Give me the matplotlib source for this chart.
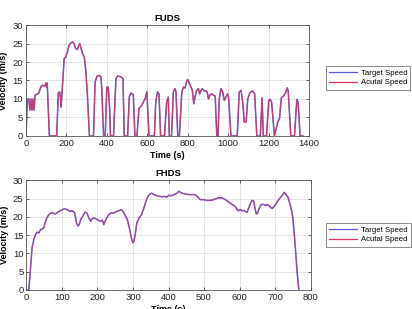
import matplotlib.pyplot as plt

plt.rcParams["font.family"] = ["Liberation Sans", "DejaVu Sans"]

# FUDS speed profile (time in s, speed in m/s)
FUDS_TIME = [0, 7, 14, 20, 25, 30, 35, 40, 45, 51, 64, 73, 81, 93, 99, 102, 105, 116,
             152, 160, 167, 170, 174, 189, 197, 205, 213, 222, 230, 238, 246, 255, 260,
             266, 271, 280, 288, 296, 304, 314, 334, 342, 351, 362, 371, 375, 384, 392,
             400, 407, 414, 418, 433, 445, 453, 470, 480, 486, 503, 511, 519, 531, 539,
             549, 559, 564, 573, 581, 589, 598, 609, 635, 642, 651, 658, 666, 685, 696,
             704, 709, 720, 729, 737, 742, 751, 759, 771, 779, 787, 795, 800, 806, 816,
             823, 830, 836, 844, 853, 859, 866, 873, 883, 889, 896, 903, 909, 919, 927,
             936, 944, 950, 956, 964, 973, 981, 989, 997, 1002, 1014, 1045, 1055, 1064,
             1072, 1080, 1089, 1097, 1108, 1121, 1131, 1142, 1159, 1168, 1174, 1190,
             1201, 1207, 1215, 1229, 1246, 1254, 1263, 1274, 1284, 1292, 1297, 1310,
             1328, 1340, 1346, 1356, 1370]
FUDS_SPEED = [0, 10, 10, 7, 10, 7, 10, 7, 11, 11.2, 11.6, 13.2, 13.7, 13.5, 14.3, 13.2,
              14.3, 0, 0, 11.7, 11.9, 10.5, 7.8, 20.9, 21.4, 22.7, 24.5, 25.2, 25.4, 25,
              23.6, 23.4, 24.3, 25, 24, 22.3, 21.4, 17.7, 11, 0, 0, 14.6, 16.1, 16.4, 16,
              12.8, 0, 0, 13.2, 13.2, 7.4, 0, 0, 15.5, 16.2, 16, 15.5, 0, 0, 10.5, 11.6,
              11.2, 0, 0, 7.4, 7.8, 8.3, 9.2, 10, 11.9, 0, 0, 9.2, 11.9, 11.4, 0, 0, 9.2,
              10.5, 0, 0, 11.9, 12.8, 11.9, 0, 0, 11.9, 13.2, 13, 14.8, 15.3, 14.6, 13.2,
              12.3, 8.7, 10.5, 12.3, 12.8, 11.4, 12.3, 12.8, 12.1, 12.3, 11.9, 10, 11,
              11.4, 11, 10.8, 0, 0, 10, 12.8, 11.9, 9.6, 10.5, 11.4, 10.5, 0, 0, 11.9,
              12.3, 9.2, 3.8, 3.8, 10, 11.7, 12.2, 11.4, 0, 0, 10.3, 0, 0, 9.6, 9.9, 9.2,
              0, 3.8, 4.7, 10.3, 10.8, 11.7, 13, 12.3, 0, 0, 9.9, 9.2, 0, 0]

# FHDS speed profile
FHDS_TIME = [0, 7, 12, 16, 21, 26, 30, 35, 40, 45, 49, 54, 59, 66, 73, 82, 90, 98, 106,
             115, 122, 129, 136, 141, 145, 149, 153, 159, 165, 170, 176, 181, 185, 190,
             195, 204, 209, 214, 218, 223, 228, 232, 239, 247, 254, 261, 267, 272, 277,
             284, 291, 295, 300, 303, 307, 311, 317, 324, 331, 338, 344, 352, 359, 366,
             375, 383, 389, 395, 401, 408, 416, 423, 429, 437, 446, 456, 465, 475, 482,
             489, 499, 508, 517, 527, 532, 541, 551, 560, 570, 579, 587, 593, 598, 603,
             607, 612, 617, 621, 626, 631, 635, 640, 643, 647, 650, 654, 659, 663, 668,
             673, 678, 682, 687, 692, 696, 703, 710, 717, 722, 726, 731, 737, 741, 746,
             750, 754, 758, 762, 767]
FHDS_SPEED = [0, 0, 6.5, 11.5, 13.8, 15.2, 15.8, 15.6, 16.5, 16.7, 17, 18.8, 20, 20.9,
              21.1, 20.8, 21.4, 21.8, 22.2, 22, 21.5, 21.7, 21.1, 18.4, 17.5, 17.9, 19.3,
              20.2, 21.3, 21.1, 19.7, 18.8, 19.5, 19.7, 19.5, 19, 18.8, 19.1, 17.9, 19.1,
              20, 20.6, 21.1, 21.1, 21.5, 21.7, 22, 21.5, 20.6, 19.3, 16.5, 14.3, 12.9,
              13.4, 15.6, 18.4, 19.7, 20.6, 22.5, 24.7, 25.9, 26.5, 26.1, 25.8, 25.6, 25.5,
              25.6, 25.4, 25.9, 25.8, 26.1, 26.4, 27, 26.5, 26.3, 26.1, 26.1, 26.1, 25.5,
              24.7, 24.7, 24.5, 24.5, 24.7, 24.9, 25.2, 25.2, 24.7, 24, 23.4, 22.9, 22,
              21.7, 22, 21.6, 21.8, 21.4, 21.3, 22.5, 23.8, 24.5, 24.3, 22.5, 20.8, 20.9,
              22, 23.1, 23.4, 23.4, 23.1, 23.4, 23.1, 22.6, 22.3, 22.7, 23.6, 24.7, 25.5,
              26.1, 26.7, 26.1, 25.2, 23.8, 22, 19.7, 15.2, 10.2, 4.7, 0]

TARGET_COLOR = "#5b5bd6"
ACTUAL_COLOR = "#d83a5e"


def draw_panel(fig, rect, title, time, speed, xmax, xstep, legend_rect, actual_alpha):
    axis = fig.add_axes(rect)
    axis.plot(time, speed, color=TARGET_COLOR, linewidth=1.1, label="Target Speed")
    axis.plot(time, speed, color=ACTUAL_COLOR, linewidth=0.8, alpha=actual_alpha,
              label="Acutal Speed")
    axis.set_xlim(0, xmax)
    axis.set_ylim(0, 30)
    axis.set_xticks(range(0, xmax + 1, xstep))
    axis.set_yticks(range(0, 31, 5))
    axis.grid(True, color="#e2e2e2", linewidth=0.6)
    axis.tick_params(direction="in", length=2.5, width=0.5, labelsize=6.8,
                     top=True, right=True, pad=2, colors="#222222")
    for spine in axis.spines.values():
        spine.set_linewidth(0.6)
        spine.set_color("#555555")
    axis.set_title(title, fontsize=6.8, fontweight="semibold", pad=3)
    axis.set_xlabel("Time (s)", fontsize=6.5, fontweight="semibold", labelpad=2)
    axis.set_ylabel("Velocity (m/s)", fontsize=6.5, fontweight="semibold", labelpad=3)

    legend = axis.legend(loc="center", bbox_to_anchor=legend_rect,
                         bbox_transform=fig.transFigure, fontsize=5.6,
                         frameon=True, fancybox=False, handlelength=3.6,
                         handletextpad=0.5, borderpad=0.4, labelspacing=0.25)
    legend.get_frame().set_edgecolor("#555555")
    legend.get_frame().set_linewidth(0.6)
    for handle in legend.get_lines():
        handle.set_linewidth(0.9)
        handle.set_alpha(1.0)
    return axis


def main():
    fig = plt.figure(figsize=(4.12, 3.09), dpi=100)

    draw_panel(fig, [0.063, 0.560, 0.687, 0.359], "FUDS", FUDS_TIME, FUDS_SPEED,
               1400, 200, (0.791, 0.712, 0.204, 0.071), 0.85)
    draw_panel(fig, [0.064, 0.0615, 0.690, 0.355], "FHDS", FHDS_TIME, FHDS_SPEED,
               800, 100, (0.793, 0.204, 0.204, 0.071), 0.55)

    fig.savefig("out.png", dpi=100)
    plt.close(fig)


if __name__ == "__main__":
    main()
